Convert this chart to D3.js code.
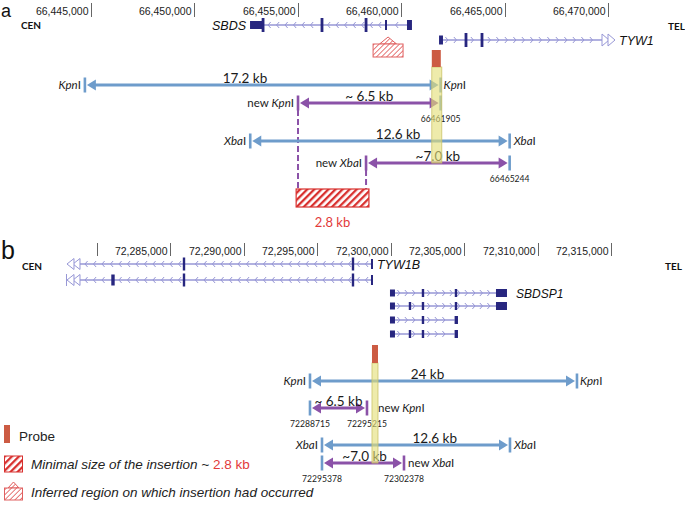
<!DOCTYPE html>
<html><head><meta charset="utf-8">
<script src="https://cdn.jsdelivr.net/npm/d3@7"></script>
<style>body{margin:0;background:#fff}svg{display:block}</style>
</head><body><svg id="c" width="685" height="509"></svg>
<script>
// ================= DATA =================
// genomic axis ticks
const axisTicksA = [66445000, 66450000, 66455000, 66460000, 66465000, 66470000];
const axisLabelsA = ["66,445,000", "66,450,000", "66,455,000", "66,460,000", "66,465,000", "66,470,000"];
const axisTicksB = [72280000, 72285000, 72290000, 72295000, 72300000, 72305000, 72310000, 72315000];
const axisLabelsB = ["", "72,285,000", "72,290,000", "72,295,000", "72,300,000", "72,305,000", "72,310,000", "72,315,000"];

// panel a genes
const sbdsSpan = [66453320, 66460280];
const sbdsBlocks = [[66452690, 66453320], [66460280, 66460520]];
const sbdsExons = [66453320, 66456170, 66458300];
const sbdsThinExons = [66459265];
const tyw1Span = [66462020, 66469710];
const tyw1Blocks = [[66461830, 66462020]];
const tyw1Exons = [66463133, 66463907];
const inferredRegionA = [66458640, 66460090];
const probeA = [66461480, 66461915];

// panel a restriction fragments
const fragLabelsA = ["17.2 kb", "~ 6.5 kb", "12.6 kb", "~7.0 kb"];
const fragStartA = [66444705, 66455010, 66452700, 66458300];
const fragEndA = [66461905, 66461905, 66465244, 66465244];
const fragTypeA = ["wt", "new", "wt", "new"];
const siteLeftA = ["KpnI", "new KpnI", "XbaI", "new XbaI"];
const siteRightA = ["KpnI", "", "XbaI", ""];
const coordLeftA = ["", "", "", ""];
const coordRightA = ["", "66461905", "", "66465244"];
const insertionA = [66454920, 66458440];
const insertionLabel = "2.8 kb";

// panel b genes
const tyw1bSpan = [72278842, 72298725];
const tyw1bExons1 = [72285924, 72297431];
const tyw1bExons2 = [72285924, 72297431];
const tyw1bThickExons2 = [72281089];
const tyw1bEnd = 72298725;
const sbdsp1StartBlock = [72299950, 72300290];
const sbdsp1Exons = [
  [72302197, 72304444],
  [72301312, 72302197, 72304444],
  [72302197],
  [72301312, 72302197]
];
const sbdsp1EndBlocks = [
  [72307168, 72307917],
  [72307168, 72307917],
  [72304350, 72304580],
  [72304350, 72304580]
];
const probeB = [72298725, 72299065];

// panel b restriction fragments
const fragLabelsB = ["24 kb", "~ 6.5 kb", "12.6 kb", "~7.0 kb"];
const fragStartB = [72294503, 72294503, 72295320, 72295320];
const fragEndB = [72312683, 72298384, 72308121, 72300904];
const fragTypeB = ["wt", "new", "wt", "new"];
const siteLeftB = ["KpnI", "", "XbaI", ""];
const siteRightB = ["KpnI", "new KpnI", "XbaI", "new XbaI"];
const coordLeftB = ["", "72288715", "", "72295378"];
const coordRightB = ["", "72295215", "", "72302378"];

// legend
const legendLabels = ["Probe", "Minimal size of the insertion ~ ", "Inferred region on which insertion had occurred"];

// ================= LAYOUT / STYLE =================
const C = {
  blue: "#6e9ccb", purple: "#8b52a8", gene: "#27267f", intron: "#9797d6",
  probe: "#cc5b43", band: "rgba(228,222,120,0.62)", bandStroke: "#cbc36a",
  hatch: "#d8302e", red: "#e23a3a", text: "#1b1b1b", tick: "#666"
};
const LATO = "Lato, 'Open Sans', sans-serif";
const ARIAL = "'Liberation Sans', Arial, sans-serif";

const svg = d3.select("#c");
const xA = d3.scaleLinear().domain([66445000, 66470000]).range([91, 608]);
const xB = d3.scaleLinear().domain([72280000, 72315000]).range([97, 611]);

const defs = svg.append("defs");
function hatchPattern(id, color, spacing, width) {
  const p = defs.append("pattern").attr("id", id).attr("patternUnits", "userSpaceOnUse")
    .attr("width", spacing).attr("height", spacing).attr("patternTransform", "rotate(45)");
  p.append("rect").attr("width", spacing).attr("height", spacing).attr("fill", "#fff");
  p.append("rect").attr("width", width).attr("height", spacing).attr("fill", color);
}
hatchPattern("hatchBig", C.hatch, 5, 2.3);
hatchPattern("hatchLight", "#e46a6a", 3.6, 0.9);

function txt(x, y, s, o = {}) {
  return svg.append("text").attr("x", x).attr("y", y).text(s)
    .attr("font-family", o.font || LATO).attr("font-size", o.size || 12)
    .attr("font-style", o.italic ? "italic" : null).attr("font-weight", o.bold ? "bold" : null)
    .attr("text-anchor", o.anchor || "start").attr("fill", o.color || C.text);
}

// ---- axis ----
function drawAxis(scale, ticks, labels, y0, y1, labY) {
  const g = svg.append("g");
  ticks.forEach((t, i) => {
    const x = Math.round(scale(t)) + 0.5;
    g.append("line").attr("x1", x).attr("x2", x).attr("y1", y0).attr("y2", y1)
      .attr("stroke", C.tick).attr("stroke-width", 1);
    if (labels[i]) txt(x - 3, labY, labels[i], { font: ARIAL, size: 10.5, anchor: "end", color: "#222" });
  });
}

// ---- genes ----
function chevrons(g, x1, x2, y, dir, avoid, step = 8.5) {
  for (let x = x1 + 5; x < x2 - 3; x += step) {
    if (avoid.some(a => Math.abs(a - x) < 3.5)) continue;
    const d = dir < 0 ? `M${x + 2.6},${y - 3}L${x},${y}L${x + 2.6},${y + 3}`
                      : `M${x - 2.6},${y - 3}L${x},${y}L${x - 2.6},${y + 3}`;
    g.append("path").attr("d", d).attr("fill", "none").attr("stroke", C.intron).attr("stroke-width", 1);
  }
}
function intronLine(g, x1, x2, y) {
  g.append("line").attr("x1", x1).attr("x2", x2).attr("y1", y).attr("y2", y)
    .attr("stroke", C.intron).attr("stroke-width", 1.3);
}
function block(g, x1, x2, y, h) {
  g.append("rect").attr("x", x1).attr("y", y - h / 2).attr("width", Math.max(2.5, x2 - x1)).attr("height", h).attr("fill", C.gene);
}
function bar(g, x, y, h, w = 2.6) {
  g.append("rect").attr("x", x - w / 2).attr("y", y - h / 2).attr("width", w).attr("height", h).attr("fill", C.gene);
}
function openTri(g, xBase, y, dir, len = 7, h = 11) {
  g.append("path").attr("d", `M${xBase},${y - h / 2}L${xBase + dir * len},${y}L${xBase},${y + h / 2}Z`)
    .attr("fill", "#fff").attr("stroke", C.intron).attr("stroke-width", 1);
}

const gA = svg.append("g");
// SBDS (minus strand)
{
  const y = 25;
  const x1 = xA(sbdsSpan[0]), x2 = xA(sbdsSpan[1]);
  intronLine(gA, x1, x2, y);
  const av = sbdsExons.concat(sbdsThinExons).map(xA);
  chevrons(gA, x1, x2, y, -1, av);
  block(gA, xA(sbdsBlocks[0][0]), xA(sbdsBlocks[0][1]), y, 8);
  block(gA, xA(sbdsBlocks[1][0]), xA(sbdsBlocks[1][1]), y, 10);
  sbdsExons.forEach(e => bar(gA, xA(e), y, 14, 2.8));
  sbdsThinExons.forEach(e => bar(gA, xA(e), y, 10, 2));
  txt(xA(sbdsBlocks[0][0]) - 4, y + 5, "SBDS", { font: ARIAL, size: 12.5, italic: true, anchor: "end", color: "#111" });
}
// TYW1 (plus strand)
{
  const y = 40;
  const x1 = xA(tyw1Span[0]), x2 = xA(tyw1Span[1]);
  intronLine(gA, x1, x2, y);
  chevrons(gA, x1, x2, y, 1, tyw1Exons.map(xA));
  block(gA, xA(tyw1Blocks[0][0]), xA(tyw1Blocks[0][1]), y, 9);
  tyw1Exons.forEach(e => bar(gA, xA(e), y, 14, 2.8));
  openTri(gA, x2, y, 1, 7, 12);
  openTri(gA, x2 + 6, y, 1, 7, 12);
  txt(x2 + 17, y + 5, "TYW1", { font: ARIAL, size: 12.5, italic: true, color: "#111" });
}
// inferred region icon
function inferredIcon(x1, x2, yTop, h, triW, triH) {
  const cx = (x1 + x2) / 2;
  svg.append("path").attr("d", `M${cx - triW / 2},${yTop}L${cx},${yTop - triH}L${cx + triW / 2},${yTop}Z`)
    .attr("fill", "url(#hatchLight)").attr("stroke", "#e06060").attr("stroke-width", 1);
  svg.append("rect").attr("x", x1).attr("y", yTop).attr("width", x2 - x1).attr("height", h)
    .attr("fill", "url(#hatchLight)").attr("stroke", "#e06060").attr("stroke-width", 1);
}
inferredIcon(xA(inferredRegionA[0]), xA(inferredRegionA[1]), 44, 13, 17, 7);

// CEN / TEL
txt(21, 29, "CEN", { size: 10, bold: true, color: "#111" });
txt(668, 30, "TEL", { size: 10, bold: true, color: "#111" });
txt(22, 270, "CEN", { size: 10, bold: true, color: "#111" });
txt(665, 270, "TEL", { size: 10, bold: true, color: "#111" });

// panel letters
txt(1, 17, "a", { font: ARIAL, size: 18, color: "#111" });
txt(1, 259, "b", { font: ARIAL, size: 25, color: "#111" });

drawAxis(xA, axisTicksA, axisLabelsA, 3, 17, 15);
drawAxis(xB, axisTicksB, axisLabelsB, 243, 256, 255);

// ---- restriction fragments ----
function siteLabel(x, y, label, anchor) {
  if (!label) return;
  const isNew = label.startsWith("new ");
  const core = isNew ? label.slice(4) : label;
  const t = svg.append("text").attr("x", x).attr("y", y).attr("text-anchor", anchor)
    .attr("font-family", LATO).attr("font-size", 11.5).attr("fill", C.text);
  if (isNew) t.append("tspan").text("new ");
  t.append("tspan").attr("font-style", "italic").text(core.slice(0, -1));
  t.append("tspan").text(core.slice(-1));
}
function siteTick(x, y, color) {
  svg.append("rect").attr("x", x - 1.3).attr("y", y - 7.5).attr("width", 2.6).attr("height", 15).attr("fill", color);
}
function arrow(x1, x2, y, color) {
  const L = 9, Hw = 5.5, a = x1 + 2, b = x2 - 2;
  svg.append("line").attr("x1", a + L - 1).attr("x2", b - L + 1).attr("y1", y).attr("y2", y)
    .attr("stroke", color).attr("stroke-width", 3);
  svg.append("path").attr("d", `M${a},${y}L${a + L},${y - Hw}L${a + L},${y + Hw}Z`).attr("fill", color);
  svg.append("path").attr("d", `M${b},${y}L${b - L},${y - Hw}L${b - L},${y + Hw}Z`).attr("fill", color);
}
function drawFragments(scale, starts, ends, types, labels, sl, sr, cl, cr, rowY, labFrac, dxR) {
  starts.forEach((s, i) => {
    const x1 = scale(s), x2 = scale(ends[i]), y = rowY[i];
    const col = types[i] === "new" ? C.purple : C.blue;
    siteTick(x1, y, sl[i].startsWith("new") ? C.purple : C.blue);
    siteTick(x2, y, sr[i].startsWith("new") ? C.purple : C.blue);
    arrow(x1, x2, y, col);
    txt(x1 + (x2 - x1) * labFrac[i], y - 2, labels[i], { size: 13.5, anchor: "middle" });
    siteLabel(x1 - 4, y + 4, sl[i], "end");
    siteLabel(x2 + dxR[i], y + 4, sr[i], "start");
    if (cl[i]) txt(x1, y + 19, cl[i], { size: 8.6, anchor: "middle" });
    if (cr[i]) txt(x2, y + 19, cr[i], { size: 8.6, anchor: "middle" });
  });
}
const rowYA = [85, 103, 141, 163];
const rowYB = [381, 408, 445, 463];

// dashed guides + insertion box (panel a)
{
  const xk = xA(fragStartA[1]), xx = xA(fragStartA[3]);
  svg.append("line").attr("x1", xk).attr("x2", xk).attr("y1", rowYA[1] + 7).attr("y2", 189)
    .attr("stroke", C.purple).attr("stroke-width", 2).attr("stroke-dasharray", "6,3");
  svg.append("line").attr("x1", xx).attr("x2", xx).attr("y1", rowYA[3] + 7).attr("y2", 189)
    .attr("stroke", C.purple).attr("stroke-width", 2).attr("stroke-dasharray", "6,3");
  const b1 = xA(insertionA[0]), b2 = xA(insertionA[1]);
  svg.append("rect").attr("x", b1).attr("y", 189).attr("width", b2 - b1).attr("height", 18)
    .attr("fill", "url(#hatchBig)").attr("stroke", C.hatch).attr("stroke-width", 1.2);
  txt((b1 + b2) / 2, 227, insertionLabel, { size: 13, anchor: "middle", color: C.red });
}

drawFragments(xA, fragStartA, fragEndA, fragTypeA, fragLabelsA, siteLeftA, siteRightA, coordLeftA, coordRightA,
  rowYA, [0.45, 0.5, 0.57, 0.5], [3, 4, 4, 4]);

// probe + band panel a
{
  const p1 = xA(probeA[0]), p2 = xA(probeA[1]);
  svg.append("rect").attr("x", p1).attr("y", 67).attr("width", p2 - p1 + 1).attr("height", 96)
    .attr("fill", C.band).attr("stroke", C.bandStroke).attr("stroke-width", 0.8);
  svg.append("rect").attr("x", p1).attr("y", 50).attr("width", p2 - p1).attr("height", 17).attr("fill", C.probe);
}

// ---- panel b genes ----
const gB = svg.append("g");
{
  const rows = [264, 280];
  const x1 = xB(tyw1bSpan[0]), x2 = xB(tyw1bSpan[1]);
  rows.forEach((y, r) => {
    intronLine(gB, x1, x2, y);
    const ex = r === 0 ? tyw1bExons1 : tyw1bExons2.concat(tyw1bThickExons2);
    chevrons(gB, x1, x2, y, -1, ex.map(xB));
    (r === 0 ? tyw1bExons1 : tyw1bExons2).forEach(e => bar(gB, xB(e), y, 13, 2.4));
    if (r === 1) tyw1bThickExons2.forEach(e => bar(gB, xB(e), y, 11, 3.4));
    bar(gB, xB(tyw1bEnd), y, 10, 2);
    openTri(gB, x1, y, -1, 7, 11);
    openTri(gB, x1 - 6, y, -1, 7, 11);
    if (r === 1) gB.append("line").attr("x1", x1 - 13.5).attr("x2", x1 - 13.5).attr("y1", y - 6).attr("y2", y + 6)
      .attr("stroke", C.intron).attr("stroke-width", 1);
  });
  txt(x2 + 5, 269, "TYW1B", { font: ARIAL, size: 12.5, italic: true, color: "#111" });
}
{
  const rows = [293, 306, 320, 334];
  rows.forEach((y, r) => {
    const s = xB(sbdsp1StartBlock[1]), e = xB(sbdsp1EndBlocks[r][0]);
    intronLine(gB, s, e, y);
    chevrons(gB, s, e, y, 1, sbdsp1Exons[r].map(xB), 7.5);
    block(gB, xB(sbdsp1StartBlock[0]), xB(sbdsp1StartBlock[1]), y, 7);
    sbdsp1Exons[r].forEach(ex => bar(gB, xB(ex), y, 8, 2.4));
    block(gB, xB(sbdsp1EndBlocks[r][0]), xB(sbdsp1EndBlocks[r][1]), y, 8);
  });
  txt(xB(sbdsp1EndBlocks[0][1]) + 9, 298, "SBDSP1", { font: ARIAL, size: 12, italic: true, color: "#111" });
}

drawFragments(xB, fragStartB, fragEndB, fragTypeB, fragLabelsB, siteLeftB, siteRightB, coordLeftB, coordRightB,
  rowYB, [0.44, 0.5, 0.6, 0.52], [3, 11, 4, 4]);

// probe + band panel b
{
  const p1 = xB(probeB[0]), p2 = xB(probeB[1]);
  svg.append("rect").attr("x", p1).attr("y", 363).attr("width", p2 - p1 + 1).attr("height", 100)
    .attr("fill", C.band).attr("stroke", C.bandStroke).attr("stroke-width", 0.8);
  svg.append("rect").attr("x", p1).attr("y", 345).attr("width", p2 - p1 + 1).attr("height", 18).attr("fill", C.probe);
}

// ---- legend ----
svg.append("rect").attr("x", 4).attr("y", 425).attr("width", 6).attr("height", 18).attr("fill", C.probe);
txt(19, 441, legendLabels[0], { font: ARIAL, size: 13.5, color: "#222" });
svg.append("rect").attr("x", 4.5).attr("y", 456).attr("width", 18).attr("height", 16)
  .attr("fill", "url(#hatchBig)").attr("stroke", C.hatch).attr("stroke-width", 1);
{
  const t = txt(31, 469, legendLabels[1], { font: ARIAL, size: 13.5, italic: true, color: "#222" });
  t.append("tspan").attr("font-style", "normal").attr("fill", C.red).text(insertionLabel);
}
inferredIcon(4.5, 22.5, 488, 12, 11, 6);
txt(31, 497, legendLabels[2], { font: ARIAL, size: 13.5, italic: true, color: "#222" });
</script></body></html>
